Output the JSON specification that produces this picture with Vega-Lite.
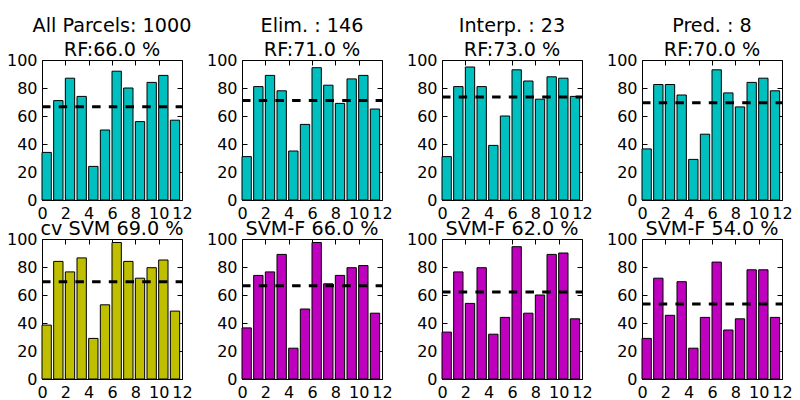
{
  "$schema": "https://vega.github.io/schema/vega-lite/v6.json",
  "padding": {"left": 5, "top": 16, "right": 5, "bottom": 5},
  "background": "white",
  "datasets": {
    "p1": [{"i":0,"acc":34},{"i":1,"acc":71},{"i":2,"acc":87},{"i":3,"acc":74},{"i":4,"acc":24},{"i":5,"acc":50},{"i":6,"acc":92},{"i":7,"acc":80},{"i":8,"acc":56},{"i":9,"acc":84},{"i":10,"acc":89},{"i":11,"acc":57}],
    "p2": [{"i":0,"acc":31},{"i":1,"acc":81},{"i":2,"acc":89},{"i":3,"acc":78},{"i":4,"acc":35},{"i":5,"acc":54},{"i":6,"acc":94.5},{"i":7,"acc":82},{"i":8,"acc":69},{"i":9,"acc":86.5},{"i":10,"acc":89},{"i":11,"acc":65}],
    "p3": [{"i":0,"acc":31},{"i":1,"acc":81},{"i":2,"acc":95},{"i":3,"acc":81},{"i":4,"acc":39},{"i":5,"acc":60},{"i":6,"acc":93},{"i":7,"acc":85},{"i":8,"acc":72},{"i":9,"acc":88},{"i":10,"acc":87},{"i":11,"acc":74}],
    "p4": [{"i":0,"acc":36.5},{"i":1,"acc":82.5},{"i":2,"acc":82.5},{"i":3,"acc":75},{"i":4,"acc":29},{"i":5,"acc":47},{"i":6,"acc":93},{"i":7,"acc":76.5},{"i":8,"acc":66.5},{"i":9,"acc":84},{"i":10,"acc":87},{"i":11,"acc":78}],
    "p5": [{"i":0,"acc":38.5},{"i":1,"acc":84},{"i":2,"acc":76.5},{"i":3,"acc":86.5},{"i":4,"acc":29},{"i":5,"acc":53},{"i":6,"acc":97.5},{"i":7,"acc":84},{"i":8,"acc":72},{"i":9,"acc":79.5},{"i":10,"acc":85},{"i":11,"acc":48.5}],
    "p6": [{"i":0,"acc":36.5},{"i":1,"acc":74},{"i":2,"acc":76.5},{"i":3,"acc":89},{"i":4,"acc":22},{"i":5,"acc":50},{"i":6,"acc":97.5},{"i":7,"acc":68},{"i":8,"acc":74},{"i":9,"acc":79.5},{"i":10,"acc":81},{"i":11,"acc":47}],
    "p7": [{"i":0,"acc":33.5},{"i":1,"acc":76.5},{"i":2,"acc":54},{"i":3,"acc":79.5},{"i":4,"acc":32},{"i":5,"acc":44},{"i":6,"acc":94.5},{"i":7,"acc":47},{"i":8,"acc":60},{"i":9,"acc":89},{"i":10,"acc":90},{"i":11,"acc":43}],
    "p8": [{"i":0,"acc":29},{"i":1,"acc":72},{"i":2,"acc":45.5},{"i":3,"acc":69.5},{"i":4,"acc":22},{"i":5,"acc":44},{"i":6,"acc":83.5},{"i":7,"acc":35},{"i":8,"acc":43},{"i":9,"acc":78},{"i":10,"acc":78},{"i":11,"acc":44}]
  },
  "columns": 4,
  "bounds": "flush",
  "spacing": {"row": 39, "column": 60},
  "concat": [
    {
      "width": 140, "height": 140,
      "title": {"text": ["All Parcels: 1000", "RF:66.0 %"]},
      "layer": [
        {"data": {"name": "p1"}, "mark": {"type": "bar", "color": "#00BFBF", "stroke": "black", "strokeWidth": 1, "width": 9.33, "xOffset": 4.67},
         "encoding": {"x": {"field": "i", "type": "quantitative", "scale": {"domain": [0, 12], "padding": 0, "nice": false}, "axis": {"orient": "bottom", "values": [0,2,4,6,8,10,12], "title": null}},
                      "y": {"field": "acc", "type": "quantitative", "scale": {"domain": [0, 100]}, "axis": {"orient": "left", "values": [0,20,40,60,80,100], "title": null}}}},
        {"data": {"values": [{"ref": 66.6}]}, "mark": {"type": "rule", "color": "black", "strokeWidth": 3, "strokeDash": [8.5, 8.2]},
         "encoding": {"y": {"field": "ref", "type": "quantitative", "axis": {"orient": "right", "labels": false, "values": [0,20,40,60,80,100], "title": null}},
                      "x": {"datum": 0, "type": "quantitative", "axis": {"orient": "top", "labels": false, "values": [0,2,4,6,8,10,12], "title": null}},
                      "x2": {"datum": 12}}}
      ],
      "resolve": {"axis": {"x": "independent", "y": "independent"}}
    },
    {
      "width": 140, "height": 140,
      "title": {"text": ["Elim. : 146", "RF:71.0 %"]},
      "layer": [
        {"data": {"name": "p2"}, "mark": {"type": "bar", "color": "#00BFBF", "stroke": "black", "strokeWidth": 1, "width": 9.33, "xOffset": 4.67},
         "encoding": {"x": {"field": "i", "type": "quantitative", "scale": {"domain": [0, 12], "padding": 0, "nice": false}, "axis": {"orient": "bottom", "values": [0,2,4,6,8,10,12], "title": null}},
                      "y": {"field": "acc", "type": "quantitative", "scale": {"domain": [0, 100]}, "axis": {"orient": "left", "values": [0,20,40,60,80,100], "title": null}}}},
        {"data": {"values": [{"ref": 71}]}, "mark": {"type": "rule", "color": "black", "strokeWidth": 3, "strokeDash": [8.5, 8.2]},
         "encoding": {"y": {"field": "ref", "type": "quantitative", "axis": {"orient": "right", "labels": false, "values": [0,20,40,60,80,100], "title": null}},
                      "x": {"datum": 0, "type": "quantitative", "axis": {"orient": "top", "labels": false, "values": [0,2,4,6,8,10,12], "title": null}},
                      "x2": {"datum": 12}}}
      ],
      "resolve": {"axis": {"x": "independent", "y": "independent"}}
    },
    {
      "width": 140, "height": 140,
      "title": {"text": ["Interp. : 23", "RF:73.0 %"]},
      "layer": [
        {"data": {"name": "p3"}, "mark": {"type": "bar", "color": "#00BFBF", "stroke": "black", "strokeWidth": 1, "width": 9.33, "xOffset": 4.67},
         "encoding": {"x": {"field": "i", "type": "quantitative", "scale": {"domain": [0, 12], "padding": 0, "nice": false}, "axis": {"orient": "bottom", "values": [0,2,4,6,8,10,12], "title": null}},
                      "y": {"field": "acc", "type": "quantitative", "scale": {"domain": [0, 100]}, "axis": {"orient": "left", "values": [0,20,40,60,80,100], "title": null}}}},
        {"data": {"values": [{"ref": 73.5}]}, "mark": {"type": "rule", "color": "black", "strokeWidth": 3, "strokeDash": [8.5, 8.2]},
         "encoding": {"y": {"field": "ref", "type": "quantitative", "axis": {"orient": "right", "labels": false, "values": [0,20,40,60,80,100], "title": null}},
                      "x": {"datum": 0, "type": "quantitative", "axis": {"orient": "top", "labels": false, "values": [0,2,4,6,8,10,12], "title": null}},
                      "x2": {"datum": 12}}}
      ],
      "resolve": {"axis": {"x": "independent", "y": "independent"}}
    },
    {
      "width": 140, "height": 140,
      "title": {"text": ["Pred. : 8", "RF:70.0 %"]},
      "layer": [
        {"data": {"name": "p4"}, "mark": {"type": "bar", "color": "#00BFBF", "stroke": "black", "strokeWidth": 1, "width": 9.33, "xOffset": 4.67},
         "encoding": {"x": {"field": "i", "type": "quantitative", "scale": {"domain": [0, 12], "padding": 0, "nice": false}, "axis": {"orient": "bottom", "values": [0,2,4,6,8,10,12], "title": null}},
                      "y": {"field": "acc", "type": "quantitative", "scale": {"domain": [0, 100]}, "axis": {"orient": "left", "values": [0,20,40,60,80,100], "title": null}}}},
        {"data": {"values": [{"ref": 69.5}]}, "mark": {"type": "rule", "color": "black", "strokeWidth": 3, "strokeDash": [8.5, 8.2]},
         "encoding": {"y": {"field": "ref", "type": "quantitative", "axis": {"orient": "right", "labels": false, "values": [0,20,40,60,80,100], "title": null}},
                      "x": {"datum": 0, "type": "quantitative", "axis": {"orient": "top", "labels": false, "values": [0,2,4,6,8,10,12], "title": null}},
                      "x2": {"datum": 12}}}
      ],
      "resolve": {"axis": {"x": "independent", "y": "independent"}}
    },
    {
      "width": 140, "height": 140,
      "title": {"text": "cv SVM 69.0 %"},
      "layer": [
        {"data": {"name": "p5"}, "mark": {"type": "bar", "color": "#BFBF00", "stroke": "black", "strokeWidth": 1, "width": 9.33, "xOffset": 4.67},
         "encoding": {"x": {"field": "i", "type": "quantitative", "scale": {"domain": [0, 12], "padding": 0, "nice": false}, "axis": {"orient": "bottom", "values": [0,2,4,6,8,10,12], "title": null}},
                      "y": {"field": "acc", "type": "quantitative", "scale": {"domain": [0, 100]}, "axis": {"orient": "left", "values": [0,20,40,60,80,100], "title": null}}}},
        {"data": {"values": [{"ref": 69.4}]}, "mark": {"type": "rule", "color": "black", "strokeWidth": 3, "strokeDash": [8.5, 8.2]},
         "encoding": {"y": {"field": "ref", "type": "quantitative", "axis": {"orient": "right", "labels": false, "values": [0,20,40,60,80,100], "title": null}},
                      "x": {"datum": 0, "type": "quantitative", "axis": {"orient": "top", "labels": false, "values": [0,2,4,6,8,10,12], "title": null}},
                      "x2": {"datum": 12}}}
      ],
      "resolve": {"axis": {"x": "independent", "y": "independent"}}
    },
    {
      "width": 140, "height": 140,
      "title": {"text": "SVM-F 66.0 %"},
      "layer": [
        {"data": {"name": "p6"}, "mark": {"type": "bar", "color": "#BF00BF", "stroke": "black", "strokeWidth": 1, "width": 9.33, "xOffset": 4.67},
         "encoding": {"x": {"field": "i", "type": "quantitative", "scale": {"domain": [0, 12], "padding": 0, "nice": false}, "axis": {"orient": "bottom", "values": [0,2,4,6,8,10,12], "title": null}},
                      "y": {"field": "acc", "type": "quantitative", "scale": {"domain": [0, 100]}, "axis": {"orient": "left", "values": [0,20,40,60,80,100], "title": null}}}},
        {"data": {"values": [{"ref": 66.6}]}, "mark": {"type": "rule", "color": "black", "strokeWidth": 3, "strokeDash": [8.5, 8.2]},
         "encoding": {"y": {"field": "ref", "type": "quantitative", "axis": {"orient": "right", "labels": false, "values": [0,20,40,60,80,100], "title": null}},
                      "x": {"datum": 0, "type": "quantitative", "axis": {"orient": "top", "labels": false, "values": [0,2,4,6,8,10,12], "title": null}},
                      "x2": {"datum": 12}}}
      ],
      "resolve": {"axis": {"x": "independent", "y": "independent"}}
    },
    {
      "width": 140, "height": 140,
      "title": {"text": "SVM-F 62.0 %"},
      "layer": [
        {"data": {"name": "p7"}, "mark": {"type": "bar", "color": "#BF00BF", "stroke": "black", "strokeWidth": 1, "width": 9.33, "xOffset": 4.67},
         "encoding": {"x": {"field": "i", "type": "quantitative", "scale": {"domain": [0, 12], "padding": 0, "nice": false}, "axis": {"orient": "bottom", "values": [0,2,4,6,8,10,12], "title": null}},
                      "y": {"field": "acc", "type": "quantitative", "scale": {"domain": [0, 100]}, "axis": {"orient": "left", "values": [0,20,40,60,80,100], "title": null}}}},
        {"data": {"values": [{"ref": 62.2}]}, "mark": {"type": "rule", "color": "black", "strokeWidth": 3, "strokeDash": [8.5, 8.2]},
         "encoding": {"y": {"field": "ref", "type": "quantitative", "axis": {"orient": "right", "labels": false, "values": [0,20,40,60,80,100], "title": null}},
                      "x": {"datum": 0, "type": "quantitative", "axis": {"orient": "top", "labels": false, "values": [0,2,4,6,8,10,12], "title": null}},
                      "x2": {"datum": 12}}}
      ],
      "resolve": {"axis": {"x": "independent", "y": "independent"}}
    },
    {
      "width": 140, "height": 140,
      "title": {"text": "SVM-F 54.0 %"},
      "layer": [
        {"data": {"name": "p8"}, "mark": {"type": "bar", "color": "#BF00BF", "stroke": "black", "strokeWidth": 1, "width": 9.33, "xOffset": 4.67},
         "encoding": {"x": {"field": "i", "type": "quantitative", "scale": {"domain": [0, 12], "padding": 0, "nice": false}, "axis": {"orient": "bottom", "values": [0,2,4,6,8,10,12], "title": null}},
                      "y": {"field": "acc", "type": "quantitative", "scale": {"domain": [0, 100]}, "axis": {"orient": "left", "values": [0,20,40,60,80,100], "title": null}}}},
        {"data": {"values": [{"ref": 53.6}]}, "mark": {"type": "rule", "color": "black", "strokeWidth": 3, "strokeDash": [8.5, 8.2]},
         "encoding": {"y": {"field": "ref", "type": "quantitative", "axis": {"orient": "right", "labels": false, "values": [0,20,40,60,80,100], "title": null}},
                      "x": {"datum": 0, "type": "quantitative", "axis": {"orient": "top", "labels": false, "values": [0,2,4,6,8,10,12], "title": null}},
                      "x2": {"datum": 12}}}
      ],
      "resolve": {"axis": {"x": "independent", "y": "independent"}}
    }
  ],
  "config": {
    "font": "DejaVu Sans",
    "view": {"stroke": "black", "strokeWidth": 1},
    "axis": {"domain": false, "grid": false, "ticks": true, "tickSize": -5, "tickColor": "black", "tickWidth": 1,
             "labelColor": "black", "labelFontSize": 16, "labelPadding": 10, "labelOverlap": false, "labelFlush": false, "labelBound": false},
    "title": {"fontSize": 19.2, "fontWeight": "normal", "color": "black", "offset": -8, "lineHeight": 24, "anchor": "middle"}
  }
}
